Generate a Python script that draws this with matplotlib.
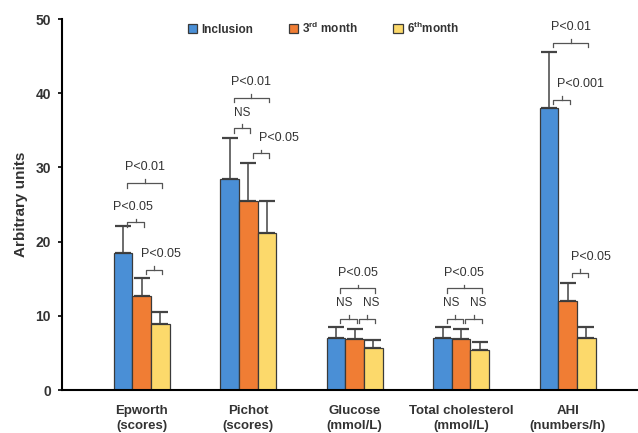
import numpy as np
import matplotlib
matplotlib.use('Agg')
import matplotlib.pyplot as plt

plt.rcParams['font.family'] = ['Liberation Sans', 'DejaVu Sans']
plt.rcParams['mathtext.fontset'] = 'custom'
plt.rcParams['mathtext.rm'] = 'Liberation Sans:bold'
plt.rcParams['mathtext.bf'] = 'Liberation Sans:bold'

# Data
categories = ['Epworth\n(scores)', 'Pichot\n(scores)', 'Glucose\n(mmol/L)',
              'Total cholesterol\n(mmol/L)', 'AHI\n(numbers/h)']
series_names = ['Inclusion', r'3$^{\mathbf{rd}}$ month', r'6$^{\mathbf{th}}$month']
inclusion = [18.5, 28.4, 7.0, 7.0, 38.0]
month3 = [12.7, 25.5, 6.9, 6.9, 12.0]
month6 = [8.9, 21.2, 5.7, 5.4, 7.0]
inclusion_err = [3.6, 5.6, 1.5, 1.5, 7.6]
month3_err = [2.4, 5.1, 1.4, 1.3, 2.4]
month6_err = [1.6, 4.3, 1.0, 1.1, 1.5]

# significance brackets: (group, bar a, bar b, bracket y, label, label dx)
brackets = [
    (0, 0, 1, 22.6, 'P<0.05', -0.03),
    (0, 0, 2, 27.9, 'P<0.01', 0.0),
    (0, 1, 2, 16.2, 'P<0.05', 0.06),
    (1, 0, 2, 39.4, 'P<0.01', 0.0),
    (1, 0, 1, 35.3, 'NS', 0.0),
    (1, 1, 2, 31.9, 'P<0.05', 0.17),
    (2, 0, 2, 13.7, 'P<0.05', 0.0),
    (2, 0, 1, 9.6, 'NS', -0.04),
    (2, 1, 2, 9.6, 'NS', 0.04),
    (3, 0, 2, 13.7, 'P<0.05', 0.0),
    (3, 0, 1, 9.6, 'NS', -0.04),
    (3, 1, 2, 9.6, 'NS', 0.04),
    (4, 0, 2, 46.8, 'P<0.01', 0.0),
    (4, 0, 1, 39.1, 'P<0.001', 0.18),
    (4, 1, 2, 15.8, 'P<0.05', 0.1),
]

colors = ['#4a8fd6', '#f07d34', '#fcd96b']
edge = '#3a3a3a'
txt = '#333333'

fig = plt.figure(figsize=(6.38, 4.33), dpi=100)
ax = fig.add_axes([0.097, 0.099, 0.903, 0.857])

x = np.arange(len(categories))
w = 0.174
vals = [inclusion, month3, month6]
errs = [inclusion_err, month3_err, month6_err]
for i in range(3):
    ax.bar(x + (i - 1) * w, vals[i], w, color=colors[i], edgecolor=edge,
           linewidth=0.9, label=series_names[i], zorder=2)
    ax.errorbar(x + (i - 1) * w, vals[i], yerr=[np.zeros(len(x)), errs[i]],
                fmt='none', ecolor='#444444', elinewidth=1.1, capsize=6,
                capthick=1.6, zorder=1)

# brackets
for g, a, b, y, lab, dx in brackets:
    x1 = g + (a - 1) * w + 0.04
    x2 = g + (b - 1) * w + 0.02
    xm = (x1 + x2) / 2
    d = 0.6
    ax.plot([x1, x1, x2, x2], [y - d, y, y, y - d], color='#555555', lw=0.9)
    ax.plot([xm, xm], [y, y + 0.5], color='#555555', lw=0.9)
    fs = 8.5 if lab == 'NS' else 9
    ax.text(xm + dx, y + 2.1, lab, ha='center', va='center', fontsize=fs,
            color=txt)

ax.set_xlim(-0.75, 4.66)
ax.set_ylim(0, 50)
ax.set_xticks(x)
ax.set_xticklabels(categories, fontsize=9.5, fontweight='bold', color=txt,
                   linespacing=1.25)
ax.tick_params(axis='x', length=0, pad=11)
ax.set_yticks([0, 10, 20, 30, 40, 50])
ax.tick_params(axis='y', length=3, width=1.2, labelsize=10, labelcolor=txt, pad=5)
for t in ax.get_yticklabels():
    t.set_fontweight('bold')
ax.set_ylabel('Arbitrary units', fontsize=11, fontweight='bold', color=txt,
              labelpad=5)

for s in ['top', 'right']:
    ax.spines[s].set_visible(False)
ax.spines['left'].set_linewidth(1.5)
ax.spines['bottom'].set_linewidth(1.5)

leg = ax.legend(ncol=3, loc='upper left', bbox_to_anchor=(0.2, 1.025),
                frameon=False, handlelength=0.8, handleheight=0.8,
                handletextpad=0.35, columnspacing=3.0,
                prop={'weight': 'bold', 'size': 8.5})
for t in leg.get_texts():
    t.set_color(txt)

plt.savefig('out.png', dpi=100)
